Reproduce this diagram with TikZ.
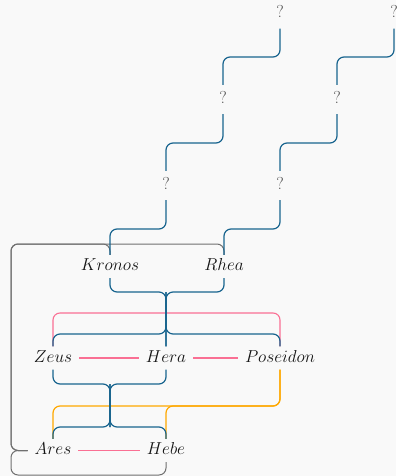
\documentclass[tikz,border=0pt]{standalone}
\definecolor{paper}{RGB}{249,249,249}
\definecolor{ink}{RGB}{20,20,20}
\definecolor{qink}{RGB}{80,80,80}
\definecolor{famblue}{RGB}{24,100,142}
\definecolor{matepink}{RGB}{250,112,148}
\definecolor{tieorange}{RGB}{255,168,0}
\definecolor{tracegray}{RGB}{112,112,112}
\begin{document}
\begin{tikzpicture}[x=1pt,y=-1pt,
  person/.style={font=\LARGE, text=ink, text height=12pt, text depth=4pt,
                 inner xsep=7pt, inner ysep=3.5pt},
  unknown/.style={person, text=qink, inner ysep=6.5pt},
  kin/.style={draw=famblue, line width=1.2pt, rounded corners=7pt},
  mate/.style={draw=matepink, line width=1.2pt},
  matebow/.style={draw=matepink, line width=1.1pt, rounded corners=7pt},
  tie/.style={draw=tieorange, line width=1.2pt, rounded corners=7pt},
  trace/.style={draw=tracegray, line width=1pt, rounded corners=7pt}]
\fill[paper] (0,0) rectangle (396,476);
\useasboundingbox (0,0) rectangle (396,476);

% people
\node[person] (kronos)   at (110,266.5) {$Kronos$};
\node[person] (rhea)     at (224,266.5) {$Rhea$};
\node[person] (zeus)     at (53,358)    {$Zeus$};
\node[person] (hera)     at (166,358)   {$Hera$};
\node[person] (poseidon) at (280,358)   {$Poseidon$};
\node[person] (ares)     at (53,450.5)  {$Ares$};
\node[person] (hebe)     at (166,450.5) {$Hebe$};

% unknown ancestors
\node[unknown] (q1) at (166,185.5) {?};
\node[unknown] (q2) at (280,185.5) {?};
\node[unknown] (q3) at (223,99.5)  {?};
\node[unknown] (q4) at (337,99.5)  {?};
\node[unknown] (q5) at (280,14)    {?};
\node[unknown] (q6) at (394,14)    {?};

% bend points
\coordinate (j1) at (223,57);
\coordinate (j2) at (337,57);
\coordinate (j3) at (166,143);
\coordinate (j4) at (280,143);
\coordinate (j5) at (110,229);
\coordinate (j6) at (224,229);
\coordinate (f1) at (166,292);
\coordinate (f2) at (166,334);
\coordinate (f3) at (110,384);
\coordinate (f4) at (110,427);
\coordinate (p1) at (166,313);
\coordinate (o1) at (53,406);
\coordinate (o2) at (166,406);
\coordinate (g1) at (11,244);
\coordinate (g2) at (11,475);

% trace line
\draw[trace] (rhea.north) |- (g1) |- (ares.west);
\draw[trace] (kronos.north) |- (g1) |- (ares.west);
\draw[trace] (hebe.south) |- (g2) |- (ares.west);

% bow between Zeus and Poseidon
\draw[matebow] (zeus.north) |- (p1) -| (poseidon.north);

% second family
\draw[tie] (poseidon.south) |- (o1) -- (ares.north);
\draw[tie] (poseidon.south) |- (o2) -- (hebe.north);

% ancestry
\draw[kin] (q5.south) |- (j1) -- (q3.north);
\draw[kin] (q6.south) |- (j2) -- (q4.north);
\draw[kin] (q3.south) |- (j3) -- (q1.north);
\draw[kin] (q4.south) |- (j4) -- (q2.north);
\draw[kin] (q1.south) |- (j5) -- (kronos.north);
\draw[kin] (q2.south) |- (j6) -- (rhea.north);

% Kronos and Rhea with their children
\draw[kin] (kronos.south) |- (f1) -- (hera.north);
\draw[kin] (rhea.south) |- (f1) -- (hera.north);
\draw[kin] (zeus.north) |- (f2) -- (f1);
\draw[kin] (poseidon.north) |- (f2) -- (f1);

% Zeus and Hera with their children
\draw[kin] (zeus.south) |- (f3) -- (f4);
\draw[kin] (hera.south) |- (f3) -- (f4);
\draw[kin] (ares.north) |- (f4) -- (f3);
\draw[kin] (hebe.north) |- (f4) -- (f3);

% partner lines
\draw[mate] (zeus.east) -- (hera.west);
\draw[mate] (hera.east) -- (poseidon.west);
\draw[mate] (ares.east) -- (hebe.west);
\end{tikzpicture}
\end{document}
